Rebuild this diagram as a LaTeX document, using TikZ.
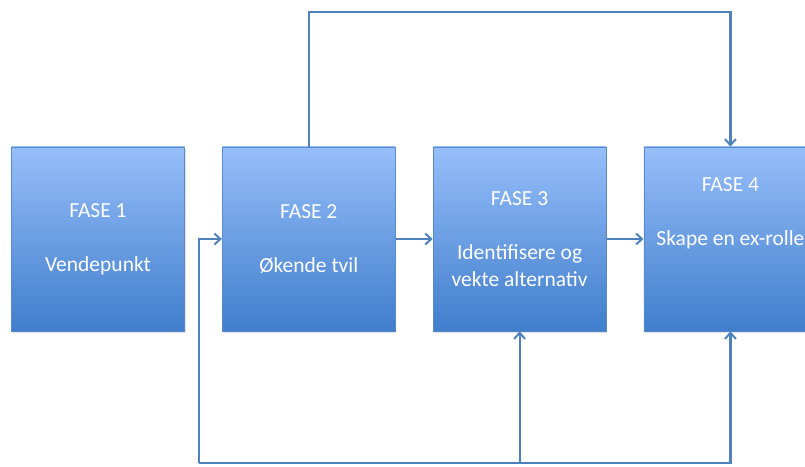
\documentclass[tikz,border=0pt]{standalone}
\usepackage{fontspec}
\setmainfont{Carlito}
\usetikzlibrary{arrows.meta, positioning, shadows}

\definecolor{fasetop}{RGB}{150,190,250}
\definecolor{fasebottom}{RGB}{64,126,204}
\definecolor{faseedge}{RGB}{88,138,205}
\definecolor{flowblue}{RGB}{79,129,189}

\begin{document}
\begin{tikzpicture}
   [
      x=1pt, y=1pt,
      % Style for the phase boxes: gradient fill, thin border, white text
      fase/.style={rectangle, draw=faseedge, line width=0.8pt,
         top color=fasetop, bottom color=fasebottom,
         minimum width=173pt, minimum height=184pt, inner sep=0pt,
         align=center, text=white, font=\fontsize{21.5}{27}\selectfont,
         drop shadow={opacity=0.25, shadow xshift=1pt, shadow yshift=-2pt}},
      % Style for the connecting arrows
      flow/.style={draw=flowblue, line width=2.2pt,
         -{Straight Barb[length=6pt, width=11pt, line width=2pt]}}
   ]

    % fix the page to the size of the reference
    \useasboundingbox (0,0) rectangle (805,466);

    % =======================================================
    % The four phases in a row
    % =======================================================
    \node[fase] (fase1) at (98,227) {FASE 1\\[27pt]Vendepunkt};
    \node[fase, right=37pt of fase1] (fase2) {FASE 2\\[27pt]Økende tvil};
    \node[fase, right=37pt of fase2] (fase3) {FASE 3\\[27pt]Identifisere og\\vekte alternativ};
    \node[fase, right=37pt of fase3] (fase4) {FASE 4\\[27pt]Skape en ex-rolle\\[27pt]~};

    % Straight arrows between neighbouring phases
    \draw[flow] (fase2.east) -- (fase3.west);
    \draw[flow] (fase3.east) -- (fase4.west);

    % =======================================================
    % Loops above and below the row
    % =======================================================

    % Top: from phase 2 over to phase 4
    \coordinate (toprail) at (500,454);
    \draw[flow] (fase2.north) |- (toprail) -| (fase4.north);

    % Bottom: one rail feeding phases 2, 3 and 4
    \coordinate (bottomrail) at (199,3);
    \draw[flow] (bottomrail) |- (fase2.west);
    \draw[flow] (bottomrail) -| (fase3.south);
    \draw[flow] (bottomrail) -| (fase4.south);

\end{tikzpicture}
\end{document}
